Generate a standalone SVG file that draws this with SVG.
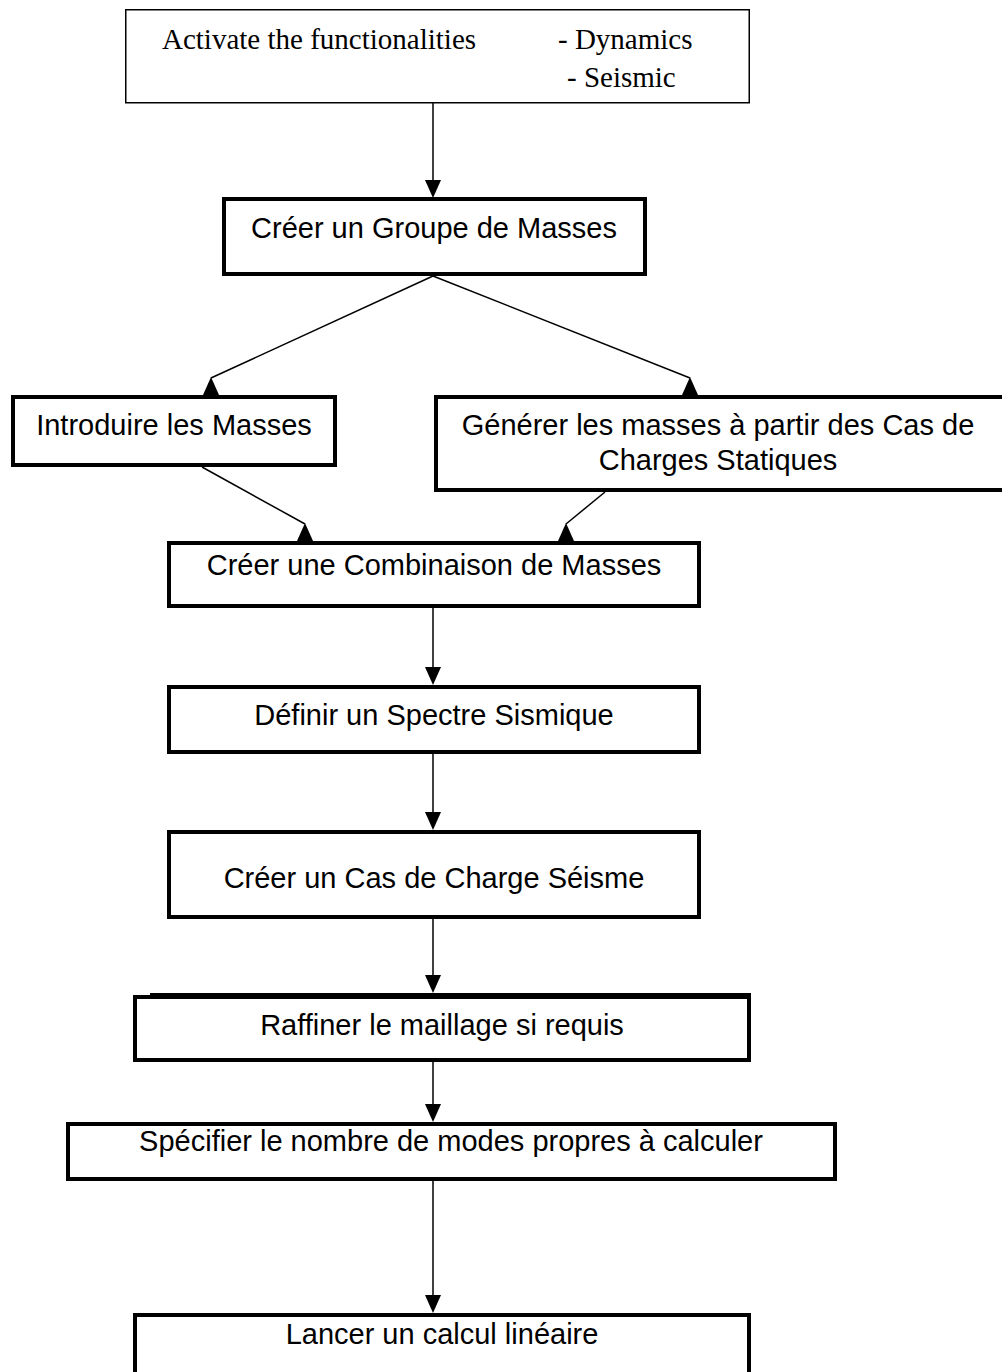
<svg xmlns="http://www.w3.org/2000/svg" width="1002" height="1372" viewBox="0 0 1002 1372">
<style>
.box{fill:#fff;stroke:#000;stroke-width:4}
.thin{fill:#fff;stroke:#000;stroke-width:1.5}
.t{font-family:"Liberation Sans",Arial,sans-serif;font-size:29px;fill:#000;text-anchor:middle}
.tt{font-family:"Liberation Serif","Times New Roman",serif;font-size:29px;fill:#000}
.ln{stroke:#000;stroke-width:1.5;fill:none}
.ah{fill:#000}
</style>
<defs>
<marker id="arr" markerWidth="16" markerHeight="18" refX="8" refY="18" orient="auto" markerUnits="userSpaceOnUse" viewBox="0 0 16 18">
<path d="M0,0 L16,0 L8,18 Z" fill="#000"/>
</marker>
</defs>
<g id="connectors">
<line class="ln" x1="433" y1="103" x2="433" y2="180"/>
<polygon class="ah" points="425,180 441,180 433,198"/>
<line class="ln" x1="433" y1="276" x2="211" y2="378"/>
<polygon class="ah" points="211,377 203,395 219,395"/>
<line class="ln" x1="433" y1="276" x2="690" y2="378"/>
<polygon class="ah" points="690,377 682,395 698,395"/>
<line class="ln" x1="202" y1="467" x2="305" y2="524"/>
<polygon class="ah" points="305,523 297,541 313,541"/>
<line class="ln" x1="605" y1="492" x2="566" y2="524"/>
<polygon class="ah" points="566,523 558,541 574,541"/>
<line class="ln" x1="433" y1="608" x2="433" y2="667"/>
<polygon class="ah" points="425,667 441,667 433,685"/>
<line class="ln" x1="433" y1="754" x2="433" y2="812"/>
<polygon class="ah" points="425,812 441,812 433,830"/>
<line class="ln" x1="433" y1="919" x2="433" y2="975"/>
<polygon class="ah" points="425,975 441,975 433,993"/>
<line class="ln" x1="433" y1="1062" x2="433" y2="1104"/>
<polygon class="ah" points="425,1104 441,1104 433,1122"/>
<line class="ln" x1="433" y1="1181" x2="433" y2="1295"/>
<polygon class="ah" points="425,1295 441,1295 433,1313"/>
</g>
<g id="n-activate">
<rect class="thin" x="125.75" y="9.75" width="623.5" height="93"/>
<text class="tt" x="162" y="49">Activate the functionalities</text>
<text class="tt" x="558" y="49">- Dynamics</text>
<text class="tt" x="567" y="87">- Seismic</text>
</g>
<g id="n-groupe">
<rect class="box" x="224" y="199" width="421" height="75"/>
<text class="t" x="434" y="238">Créer un Groupe de Masses</text>
</g>
<g id="n-introduire">
<rect class="box" x="13" y="397" width="322" height="68"/>
<text class="t" x="174" y="435">Introduire les Masses</text>
</g>
<g id="n-generer">
<rect class="box" x="436" y="397" width="580" height="93"/>
<text class="t" x="718" y="435">Générer les masses à partir des Cas de</text>
<text class="t" x="718" y="470">Charges Statiques</text>
</g>
<g id="n-combinaison">
<rect class="box" x="169" y="543" width="530" height="63"/>
<text class="t" x="434" y="575">Créer une Combinaison de Masses</text>
</g>
<g id="n-spectre">
<rect class="box" x="169" y="687" width="530" height="65"/>
<text class="t" x="434" y="725">Définir un Spectre Sismique</text>
</g>
<g id="n-seisme">
<rect class="box" x="169" y="832" width="530" height="85"/>
<text class="t" x="434" y="888">Créer un Cas de Charge Séisme</text>
</g>
<g id="n-raffiner">
<rect class="box" x="135" y="997" width="614" height="63"/>
<line x1="150" y1="995" x2="751" y2="995" stroke="#000" stroke-width="4"/>
<text class="t" x="442" y="1035">Raffiner le maillage si requis</text>
</g>
<g id="n-specifier">
<rect class="box" x="68" y="1124" width="767" height="55"/>
<text class="t" x="451" y="1151">Spécifier le nombre de modes propres à calculer</text>
</g>
<g id="n-lancer">
<rect class="box" x="135" y="1315" width="614" height="70"/>
<text class="t" x="442" y="1344">Lancer un calcul linéaire</text>
</g>
</svg>
